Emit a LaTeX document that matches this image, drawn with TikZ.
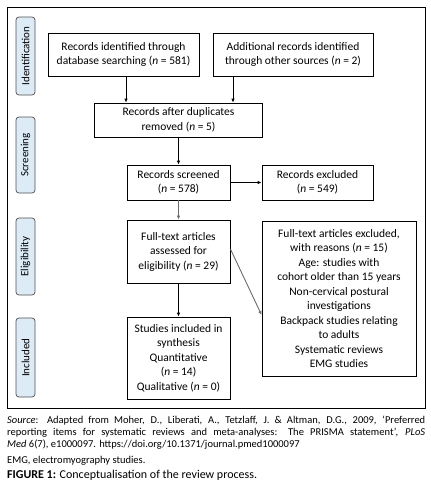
\documentclass[tikz,border=0pt]{standalone}
\usepackage{fontspec}
\setmainfont{Carlito}
\usetikzlibrary{arrows.meta}
\definecolor{labfill}{HTML}{DDEBF7}
\definecolor{labdraw}{HTML}{505050}
\newcommand{\nn}{\textit{n}}
\begin{document}
\begin{tikzpicture}[x=1pt,y=-1pt,
  boxst/.style={draw=black,line width=0.8pt,align=center,inner sep=1pt,
    font=\fontsize{11.5}{14.5}\selectfont},
  labst/.style={draw=labdraw,fill=labfill,rounded corners=3pt,line width=0.7pt,
    rotate=90,inner sep=0pt,font=\fontsize{11}{13}\selectfont},
  arr/.style={-{Latex[length=4pt,width=3.5pt]},line width=0.8pt,draw=black},
  garr/.style={-{Latex[length=4pt,width=3.5pt]},line width=0.9pt,draw=gray!85!black}]
\useasboundingbox (0,0) rectangle (431,490);
\fill[white] (0,0) rectangle (431,490);
\node[draw=black,line width=0.9pt,minimum width=418pt,minimum height=401pt,inner sep=0pt] (frame) at (216,207.5) {};
% side labels
\node[labst,minimum width=78pt,minimum height=19pt] (lid) at (25.5,56) {Identification};
\node[labst,minimum width=76pt,minimum height=19pt] (lsc) at (25.5,155) {Screening};
\node[labst,minimum width=77pt,minimum height=19pt] (lel) at (25.5,256.5) {Eligibility};
\node[labst,minimum width=79pt,minimum height=19pt] (lin) at (25.5,357.5) {Included};
% boxes
\node[boxst,minimum width=151pt,minimum height=43pt] (b1) at (123.5,54.5) {Records identified through\\database searching (\nn{} = 581)};
\node[boxst,minimum width=160pt,minimum height=43pt] (b2) at (293,54.5) {Additional records identified\\through other sources (\nn{} = 2)};
\node[boxst,minimum width=168pt,minimum height=34pt] (b3) at (178.5,120) {Records after duplicates\\removed (\nn{} = 5)};
\node[boxst,minimum width=103pt,minimum height=35pt] (b4) at (178.5,182.5) {Records screened\\(\nn{} = 578)};
\node[boxst,minimum width=111pt,minimum height=35pt] (b5) at (317.5,182.5) {Records excluded\\(\nn{} = 549)};
\node[boxst,minimum width=103pt,minimum height=63pt] (b6) at (178.5,251.5) {Full-text articles\\assessed for\\eligibility (\nn{} = 29)};
\node[boxst,minimum width=154pt,minimum height=155pt] (b7) at (339,298.5) {Full-text articles excluded,\\with reasons (\nn{} = 15)\\Age: studies with\\cohort older than 15 years\\Non-cervical postural\\investigations\\Backpack studies relating\\to adults\\Systematic reviews\\EMG studies};
\node[boxst,minimum width=103pt,minimum height=82pt] (b8) at (178.5,358) {Studies included in\\synthesis\\Quantitative\\(\nn{} = 14)\\Qualitative (\nn{} = 0)};
% connectors
\draw[arr] ([xshift=2.5pt]b1.south) -- ([xshift=2.5pt]b1.south |- b3.north);
\draw[arr] ([xshift=-60pt]b2.south) -- ([xshift=-60pt]b2.south |- b3.north);
\draw[arr] (b3.south) -- (b4.north);
\draw[arr] (b4.east) -- (b5.west);
\draw[garr] (b4.south) -- (b6.north);
\draw[garr] ([yshift=2.5pt]b6.east) -- ([yshift=-16.5pt]b7.west);
\draw[arr] (b6.south) -- (b8.north);
% caption
\node[anchor=north west,text width=418pt,align=justify,inner sep=0pt,
  font=\fontsize{10.5}{12}\selectfont] (src) at (7,416)
  {\textit{Source}: Adapted from Moher, D., Liberati, A., Tetzlaff, J. \& Altman, D.G., 2009, ‘Preferred\linebreak
  reporting items for systematic reviews and meta-analyses: The PRISMA statement’, \textit{PLoS}\linebreak
  \textit{Med} 6(7), e1000097. https://doi.org/10.1371/journal.pmed1000097};
\node[anchor=north west,inner sep=0pt,font=\fontsize{10.5}{12}\selectfont] (emg) at (7,456) {EMG, electromyography studies.};
\node[anchor=north west,inner sep=0pt,font=\fontsize{12}{14}\selectfont] (fig) at (7,470) {\textbf{FIGURE 1:} Conceptualisation of the review process.};
\end{tikzpicture}
\end{document}
